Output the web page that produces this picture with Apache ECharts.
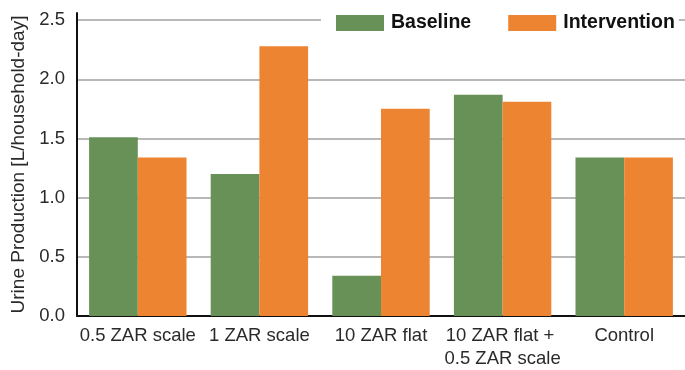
<!DOCTYPE html>
<html>
<head>
<meta charset="utf-8">
<script src="https://cdn.jsdelivr.net/npm/echarts@6/dist/echarts.min.js"></script>
<style>
    html, body { margin: 0; padding: 0; background: #fff; }
    #chart { width: 685px; height: 370px; }
</style>
</head>
<body>
<div id="chart"></div>
<script>
// categories and series
const categories = ['0.5 ZAR scale', '1 ZAR scale', '10 ZAR flat', '10 ZAR flat + \n0.5 ZAR scale', 'Control']
const baseline = [1.51, 1.20, 0.34, 1.87, 1.34]
const intervention = [1.34, 2.28, 1.75, 1.81, 1.34]
const seriesNames = ['Baseline', 'Intervention']

const labelFont = 'Liberation Sans'
const labelColor = '#2a2a2a'

const myChart = echarts.init(document.getElementById('chart'))

const option = {
    animation: false,
    grid: {
        left: 77,
        top: 13,
        width: 613,
        bottom: 53
    },
    legend: {
        data: seriesNames,
        left: 321,
        top: 9,
        padding: [4, 4, 4, 15],
        backgroundColor: '#fff',
        itemWidth: 48,
        itemHeight: 16,
        itemGap: 37,
        icon: 'rect',
        textStyle: {
            fontFamily: 'Liberation Sans',
            fontWeight: 'bold',
            fontSize: 19.5,
            color: '#111',
            padding: [0, 0, 0, 2]
        }
    },
    xAxis: [{
        type: 'category',
        data: categories,
        axisLine: { lineStyle: { color: '#111', width: 2 } },
        axisTick: { show: false },
        axisLabel: {
            interval: 0,
            margin: 8,
            fontFamily: labelFont,
            fontSize: 18.5,
            lineHeight: 23,
            color: labelColor
        }
    }],
    yAxis: [{
        type: 'value',
        min: 0,
        max: 2.56,
        interval: 0.5,
        name: 'Urine Production [L/household-day]',
        nameLocation: 'middle',
        nameGap: 47,
        nameTextStyle: {
            fontFamily: labelFont,
            fontSize: 19,
            color: labelColor
        },
        axisLine: { show: true, lineStyle: { color: '#111', width: 2 } },
        axisTick: { show: false },
        axisLabel: {
            margin: 12,
            showMaxLabel: false,
            fontFamily: labelFont,
            fontSize: 18.5,
            color: labelColor,
            formatter: (v) => v.toFixed(1)
        },
        splitLine: {
            show: true,
            showMinLine: false,
            showMaxLine: false,
            lineStyle: { color: '#a0a0a0', width: 1.5 }
        }
    }],
    series: [
        {
            name: seriesNames[0],
            type: 'bar',
            data: baseline,
            barWidth: 48.7,
            barGap: '0%',
            itemStyle: { color: '#679156' }
        },
        {
            name: seriesNames[1],
            type: 'bar',
            data: intervention,
            barWidth: 48.7,
            barGap: '0%',
            itemStyle: { color: '#ED8431' }
        }
    ]
}

myChart.setOption(option)
</script>
</body>
</html>
